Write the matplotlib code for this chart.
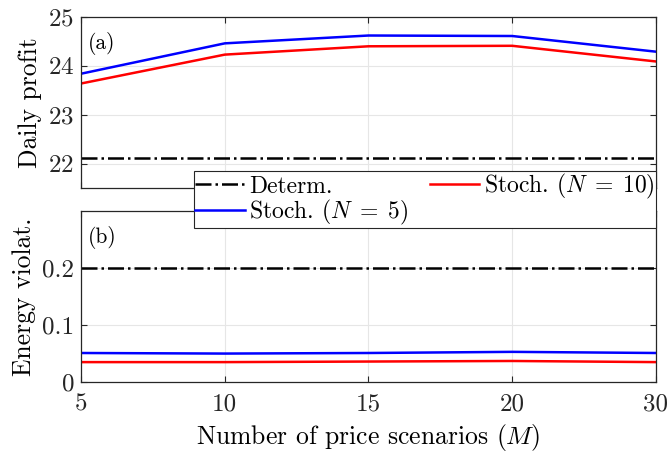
import numpy as np
import matplotlib.pyplot as plt

# ---------------------------------------------------------------------
# Data
# ---------------------------------------------------------------------

scenarios = ["5", "10", "15", "20", "30"]

profit_determ = [22.12, 22.12, 22.12, 22.12, 22.12]
profit_n5 = [23.84, 24.46, 24.62, 24.61, 24.29]
profit_n10 = [23.64, 24.23, 24.40, 24.41, 24.09]

viol_determ = [0.20, 0.20, 0.20, 0.20, 0.20]
viol_n5 = [0.051, 0.050, 0.051, 0.053, 0.051]
viol_n10 = [0.035, 0.035, 0.036, 0.037, 0.035]

# ---------------------------------------------------------------------
# Style (MATLAB-like, Computer Modern)
# ---------------------------------------------------------------------

plt.rcParams["font.family"] = "serif"
plt.rcParams["font.serif"] = ["cmr10"]
plt.rcParams["mathtext.fontset"] = "cm"
plt.rcParams["axes.formatter.use_mathtext"] = True

fs = 18.5
tfs = 18
xpos = np.arange(len(scenarios))

fig = plt.figure(figsize=(6.7, 4.57), dpi=100)
ax1 = fig.add_axes([0.121, 0.588, 0.858, 0.375])
ax2 = fig.add_axes([0.121, 0.164, 0.858, 0.374])


def style(ax):
    ax.set_xlim(xpos[0], xpos[-1])
    ax.set_xticks(xpos)
    ax.grid(True, color="#e6e6e6", linewidth=0.8)
    ax.set_axisbelow(True)
    ax.tick_params(direction="in", top=True, right=True, length=4,
                   width=0.8, colors="#262626", labelsize=tfs, pad=5)
    ax.tick_params(axis="x", pad=8)
    for s in ax.spines.values():
        s.set_color("#262626")
        s.set_linewidth(0.9)


# (a) daily profit
l_det, = ax1.plot(xpos, profit_determ, color="black", linestyle="-.",
                  linewidth=1.8, label="Determ.")
l_n5, = ax1.plot(xpos, profit_n5, color="#0000ff", linewidth=1.8,
                 label=r"Stoch. $(N\;=\;5)$")
l_n10, = ax1.plot(xpos, profit_n10, color="#ff0000", linewidth=1.8,
                  label=r"Stoch. $(N\;=\;10)$")
style(ax1)
ax1.set_ylim(21.5, 25)
ax1.set_yticks([22, 23, 24, 25])
ax1.set_xticklabels([])
ax1.set_ylabel("Daily profit", fontsize=fs, labelpad=4)
ax1.annotate("(a)", xy=(0, 1), xycoords="axes fraction", xytext=(5, -11),
             textcoords="offset points", va="top", fontsize=15.5)

# (b) energy violation
ax2.plot(xpos, viol_determ, color="black", linestyle="-.", linewidth=1.8)
ax2.plot(xpos, viol_n5, color="#0000ff", linewidth=1.8)
ax2.plot(xpos, viol_n10, color="#ff0000", linewidth=1.8)
style(ax2)
ax2.set_ylim(0, 0.3)
ax2.set_yticks([0, 0.1, 0.2])
ax2.set_yticklabels(["0", "0.1", "0.2"])
ax2.set_xticklabels(scenarios)
ax2.set_ylabel("Energy violat.", fontsize=fs, labelpad=4)
ax2.set_xlabel(r"Number of price scenarios $(M)$", fontsize=fs, labelpad=5)
ax2.annotate("(b)", xy=(0, 1), xycoords="axes fraction", xytext=(5, -11),
             textcoords="offset points", va="top", fontsize=15.5)

leg = fig.legend(handles=[l_det, l_n5, l_n10], ncol=2,
                 loc="upper right", bbox_to_anchor=(0.979, 0.626),
                 frameon=True, fancybox=False, framealpha=1,
                 edgecolor="#262626", fontsize=17,
                 handlelength=2.1, handletextpad=0.2, columnspacing=0.9,
                 borderpad=0.05, labelspacing=0.0, borderaxespad=0)
leg.get_frame().set_linewidth(0.8)

fig.savefig("out.png", dpi=100)
